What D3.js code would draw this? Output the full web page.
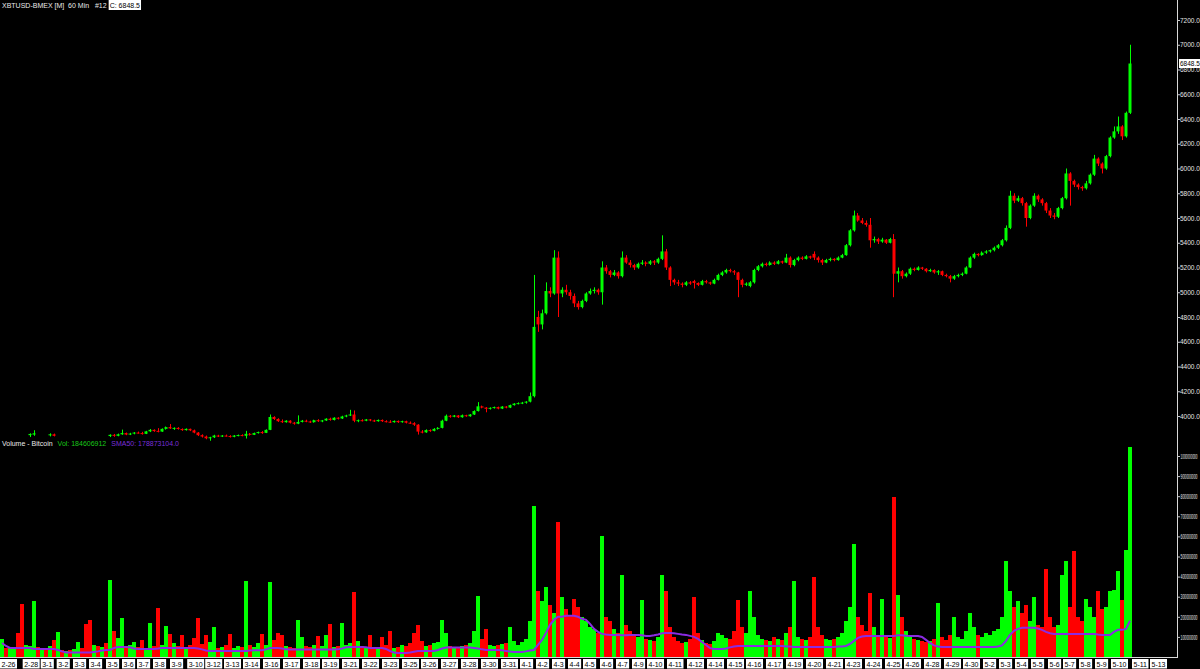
<!DOCTYPE html>
<html><head><meta charset="utf-8">
<script src="https://cdn.jsdelivr.net/npm/d3@7"></script>
<style>
html,body{margin:0;padding:0;background:#000;overflow:hidden;}
svg{display:block;}
text{font-family:"Liberation Sans",Arial,sans-serif;font-size:7px;white-space:pre;}
</style></head><body>
<svg id="chart" width="1200" height="669"></svg>
<script>
// ---------------- DATA ----------------
const titleText = "XBTUSD-BMEX [M]  60 Min   #12";
const lastCloseText = "C: 6848.5";
const lastClose = 6848.5;
const volTitle = "Volume - Bitcoin";
const volText = "Vol: 184606912";
const smaText = "SMA50: 178873104.0";

const opens = [
null,null,null,null,null,null,null,3845,3850,null,
null,null,3845,3852,null,null,null,null,null,null,
null,null,null,null,null,null,null,3838,3848,3840,
3852,3862,3850,3858,3866,3862,3856,3876,3888,3880,
3874,3896,3910,3900,3904,3895,3886,3896,3884,3866,
3845,3834,3820,3828,3842,3836,3842,3838,3832,3842,
3846,3840,3856,3848,3862,3870,3864,3888,3992,3976,
3958,3950,3962,3946,3938,3952,3962,3956,3950,3966,
3958,3964,3978,3968,3986,3980,3996,4004,4012,3962,
3966,3962,3972,3964,3958,3968,3958,3954,3950,3960,
3950,3958,3946,3942,3930,3874,3868,3886,3880,3896,
3904,3962,4002,3994,4004,3990,4006,3998,4012,4040,
4078,4068,4058,4066,4072,4060,4076,4068,4088,4100,
4104,4108,4116,4160,4800,4740,4830,5010,4990,5280,
4990,5020,5000,4970,4910,4880,4930,4990,5010,5020,
5000,5200,5170,5140,5160,5130,5280,5240,5220,5200,
5230,5240,5230,5250,5240,5270,5330,5200,5100,5080,
5070,5060,5080,5090,5075,5060,5090,5080,5070,5100,
5140,5160,5180,5170,5160,5100,5060,5050,5080,5180,
5210,5230,5220,5240,5230,5250,5240,5280,5220,5260,
5280,5270,5290,5310,5280,5260,5240,5260,5270,5260,
5280,5300,5380,5500,5620,5580,5560,5545,5420,5430,
5410,5425,5400,5430,5150,5170,5130,5150,5190,5180,
5200,5190,5170,5180,5160,5170,5140,5130,5110,5130,
5140,5150,5200,5280,5310,5300,5320,5330,5340,5360,
5380,5420,5520,5780,5740,5760,5720,5600,5700,5780,
5750,5720,5660,5620,5610,5680,5760,5960,5900,5870,
5850,5840,5880,5950,6080,6040,6000,6100,6250,6300,
6340,6260,6450];

const highs = [
null,null,null,null,null,null,null,3860,3885,null,
null,null,3860,3858,null,null,null,null,null,null,
null,null,null,null,null,null,null,3852,3855,3858,
3890,3866,3864,3870,3874,3872,3880,3895,3892,3902,
3900,3915,3935,3908,3910,3900,3900,3898,3890,3870,
3852,3842,3832,3848,3848,3846,3850,3845,3846,3850,
3852,3880,3862,3866,3874,3878,3892,4012,3998,3982,
3972,3966,3966,3952,4005,3968,3970,3962,3970,3974,
3968,3982,3986,3990,3990,4002,4010,4050,4045,3972,
3974,3976,3976,3970,3972,3972,3966,3966,3964,3964,
3962,3962,3956,3950,3934,3886,3892,3892,3902,3910,
3970,4012,4008,4008,4008,4012,4010,4016,4046,4112,
4084,4072,4070,4076,4076,4080,4080,4092,4104,4110,
4114,4120,4190,5140,4850,4860,5080,5040,5340,5330,
5040,5060,5020,4990,4930,4940,5000,5030,5040,5030,
5250,5220,5180,5180,5170,5330,5300,5260,5230,5240,
5260,5250,5260,5260,5280,5460,5350,5210,5110,5100,
5080,5090,5090,5100,5080,5100,5100,5085,5110,5150,
5170,5190,5190,5180,5165,5110,5080,5090,5190,5220,
5240,5240,5250,5250,5260,5255,5310,5290,5270,5290,
5290,5300,5295,5330,5290,5270,5270,5280,5275,5290,
5310,5390,5510,5660,5640,5600,5580,5600,5450,5440,
5440,5430,5440,5470,5200,5180,5160,5200,5200,5210,
5205,5195,5190,5185,5180,5175,5150,5140,5140,5150,
5160,5210,5290,5320,5315,5330,5340,5345,5370,5390,
5430,5540,5820,5800,5780,5770,5730,5710,5800,5790,
5760,5730,5680,5640,5690,5770,6000,5970,5910,5880,
5860,5900,5960,6110,6090,6050,6110,6260,6340,6420,
6350,6460,7000];

const lows = [
null,null,null,null,null,null,null,3830,3840,null,
null,null,3835,3835,null,null,null,null,null,null,
null,null,null,null,null,null,null,3830,3832,3836,
3848,3845,3846,3852,3858,3850,3854,3870,3872,3868,
3872,3890,3895,3888,3890,3880,3882,3878,3860,3838,
3826,3812,3800,3822,3830,3830,3834,3826,3828,3836,
3836,3818,3842,3846,3858,3856,3862,3886,3968,3952,
3944,3946,3940,3930,3934,3948,3950,3944,3946,3952,
3950,3960,3962,3964,3972,3976,3990,4000,3950,3950,
3956,3958,3958,3952,3954,3952,3948,3944,3946,3944,
3946,3940,3936,3920,3850,3860,3864,3872,3876,3890,
3900,3958,3986,3990,3984,3986,3994,3994,4008,4036,
4062,4030,4052,4060,4054,4056,4062,4064,4084,4094,
4096,4100,4110,4150,4680,4700,4820,4960,4980,4800,
4960,4980,4940,4880,4860,4870,4920,4980,4990,4980,
4900,5150,5120,5130,5110,5120,5230,5200,5180,5190,
5220,5210,5220,5220,5230,5260,5180,5050,5060,5050,
5040,5050,5060,5030,5050,5055,5070,5060,5065,5095,
5130,5150,5160,5140,4960,5040,5050,5040,5070,5170,
5200,5210,5215,5220,5225,5230,5235,5200,5210,5250,
5260,5265,5270,5260,5240,5220,5235,5250,5250,5255,
5275,5295,5370,5490,5570,5550,5530,5360,5400,5390,
5400,5390,5395,4960,5080,5110,5120,5140,5170,5175,
5180,5160,5165,5150,5140,5130,5120,5080,5100,5120,
5130,5145,5195,5270,5290,5295,5310,5320,5330,5350,
5370,5410,5510,5720,5730,5700,5530,5590,5690,5730,
5700,5640,5600,5590,5600,5670,5750,5700,5850,5830,
5820,5830,5870,5940,6020,5960,5990,6090,6240,6280,
6230,6250,6440];

const closes = [
null,null,null,null,null,null,null,3855,3860,null,
null,null,3852,3840,null,null,null,null,null,null,
null,null,null,null,null,null,null,3848,3840,3852,
3862,3850,3858,3866,3862,3856,3876,3888,3878,3874,
3896,3910,3900,3904,3895,3886,3896,3884,3866,3845,
3834,3820,3828,3842,3836,3842,3838,3832,3842,3846,
3840,3856,3848,3862,3870,3864,3888,3992,3976,3958,
3950,3962,3946,3938,3952,3962,3956,3950,3966,3958,
3964,3978,3968,3986,3980,3996,4004,4012,3962,3966,
3962,3972,3964,3958,3968,3958,3954,3950,3960,3950,
3958,3946,3942,3930,3874,3868,3886,3880,3896,3904,
3962,4002,3994,4004,3990,4006,3998,4012,4040,4078,
4068,4058,4066,4072,4060,4076,4068,4088,4100,4104,
4108,4116,4160,4720,4740,4830,5010,4990,5280,4990,
5020,5000,4970,4910,4880,4930,4990,5010,5020,5000,
5200,5170,5140,5160,5130,5280,5240,5220,5200,5230,
5240,5230,5250,5240,5270,5330,5200,5100,5080,5070,
5060,5080,5070,5075,5060,5090,5080,5070,5100,5140,
5160,5180,5170,5160,5100,5060,5070,5080,5180,5210,
5230,5220,5240,5230,5250,5240,5280,5220,5260,5280,
5270,5290,5280,5280,5260,5240,5260,5270,5260,5280,
5300,5380,5500,5620,5580,5560,5545,5420,5430,5410,
5425,5400,5430,5150,5170,5130,5150,5190,5180,5200,
5190,5170,5180,5160,5170,5140,5130,5110,5130,5140,
5150,5200,5280,5310,5300,5320,5330,5340,5360,5380,
5420,5520,5780,5740,5760,5720,5600,5700,5780,5750,
5720,5660,5620,5610,5680,5760,5960,5900,5870,5850,
5840,5880,5950,6080,6040,6000,6100,6250,6300,6340,
6260,6450,6848.5];

// direction of the volume bars where no price bar is drawn (1 = up, 0 = down)
const earlyUp = [1,0,1,1,0,0,1,1,1,0, 1,0,1,0,1,0,1,0,1,1, 0,0,0,1,0,1,0];

// volume, millions
const volumes = [
90,45,50,40,120,265,60,55,280,50,
45,40,55,85,125,35,30,35,40,75,
45,165,185,60,55,50,70,385,130,95,
195,55,60,75,50,85,45,170,55,245,
60,155,115,70,55,110,50,60,95,195,
65,110,75,150,45,50,60,115,45,55,
50,378,60,50,70,115,60,375,85,120,
110,55,50,45,185,100,55,50,60,105,
55,110,165,50,55,170,60,70,325,80,
55,50,110,50,45,100,60,130,45,50,
60,55,70,120,160,80,55,60,70,75,
185,120,55,50,45,55,60,70,130,305,
90,140,60,55,60,65,70,150,80,60,
75,90,180,750,330,280,350,260,220,670,
300,240,210,290,250,200,180,150,140,120,
600,200,180,140,120,410,160,130,110,100,
285,90,85,80,100,410,330,150,100,80,
70,75,90,300,120,85,70,65,80,120,
110,95,90,130,285,150,120,330,200,110,
90,85,80,100,90,85,120,150,380,100,
90,85,100,400,150,110,90,85,90,100,
120,180,250,560,200,160,130,320,150,110,
290,100,95,795,310,200,130,100,90,85,
80,75,80,90,270,100,85,110,200,100,
90,130,220,150,110,100,120,110,130,140,
200,480,330,250,280,220,260,180,300,160,
150,440,200,150,160,410,480,250,525,200,
180,290,250,200,330,240,250,330,335,430,
285,530,1045];

// SMA50 of volume, millions
const sma50 = [
70,55,45,45,45,45,45,45,40,40,
40,40,40,40,35,28,22,22,22,22,
22,22,22,25,28,32,35,35,45,50,
50,50,48,42,40,40,40,40,40,42,
45,45,45,45,45,45,45,45,45,42,
38,32,30,30,30,30,30,30,30,30,
30,30,32,34,34,34,38,45,45,45,
42,38,37,37,37,37,37,37,37,37,
37,37,37,37,38,42,48,50,50,50,
50,48,45,45,45,45,40,30,22,20,
20,20,22,26,30,30,30,30,30,35,
42,47,47,47,47,47,47,47,45,42,
38,35,35,35,35,33,30,27,25,25,
25,28,32,35,60,85,120,160,185,200,
200,205,205,205,200,190,185,165,140,125,
115,112,110,110,110,108,108,110,110,110,
108,105,105,108,112,118,120,120,118,115,
112,110,105,100,90,75,60,45,40,40,
40,42,48,52,55,55,55,55,55,55,
55,55,55,55,55,55,52,52,50,50,
50,50,50,50,50,50,50,50,50,52,
52,55,65,80,95,102,105,105,105,105,
105,105,105,105,108,108,106,105,105,104,
100,85,70,58,52,50,50,50,50,50,
50,50,50,50,50,50,50,50,50,52,
58,80,110,130,140,145,145,145,145,142,
135,125,118,115,115,115,115,115,115,115,
115,115,115,115,112,110,110,110,125,135,
135,140,180];

const priceTicks = [4000,4200,4400,4600,4800,5000,5200,5400,5600,5800,6000,6200,6400,6600,6800,7000,7200];
const volumeTicks = [100000000,200000000,300000000,400000000,500000000,600000000,700000000,800000000,900000000,1000000000];

const dateLabels = ["2-26","2-28","3-1","3-2","3-3","3-4","3-5","3-6","3-7","3-8","3-9","3-10","3-12","3-13","3-14","3-16","3-17","3-18","3-19","3-21","3-22","3-23","3-25","3-26","3-27","3-28","3-30","3-31","4-1","4-2","4-3","4-4","4-5","4-6","4-7","4-9","4-10","4-11","4-12","4-14","4-15","4-16","4-17","4-19","4-20","4-21","4-23","4-24","4-25","4-26","4-28","4-29","4-30","5-2","5-3","5-4","5-5","5-6","5-7","5-8","5-9","5-10","5-11","5-13"];
// bar position (in bar units) where each date label sits
const dateLabelBar = [0,5.67,10.17,14.17,18.25,22.25,26.5,30.5,34.25,38.25,42.5,46.8,51.3,56,60.75,65.75,70.75,75.75,80.5,85.5,90.5,95.5,100.5,105.25,110.25,115.25,120.25,125.25,130,134,138,142,145.75,150,154,158,161.75,166.75,171.75,176.75,181.75,186.5,191.5,196.5,201.5,206.5,211.25,216.25,221.25,226,231,236,240.75,245.75,249.75,253.75,257.75,262,265.75,269.75,273.75,277.75,283,287.5];

// ---------------- DRAWING ----------------
const GREEN = "#00ff00", RED = "#ff0000", PURPLE = "#8a2be2";
const FONT = "'Liberation Sans', Arial, sans-serif";
const svg = d3.select("#chart");
svg.append("rect").attr("width",1200).attr("height",669).attr("fill","#000");

const nBars = closes.length;
const x = d3.scaleLinear().domain([0, nBars]).range([0, 1132]);
const yP = d3.scaleLinear().domain([4000, 7200]).range([416, 20]);
const yV = d3.scaleLinear().domain([0, 1e9]).range([657, 456]);
const step = x(1) - x(0);

const bars = d3.range(nBars).map(i => ({
  i, o: opens[i], h: highs[i], l: lows[i], c: closes[i],
  v: volumes[i] * 1e6, sma: sma50[i] * 1e6
}));
const isUp = d => d.c != null ? d.c >= d.o : earlyUp[d.i] === 1;

// volume bars
svg.append("g").selectAll("rect").data(bars).join("rect")
  .attr("x", d => x(d.i)).attr("width", step)
  .attr("y", d => yV(d.v)).attr("height", d => yV(0) - yV(d.v))
  .attr("fill", d => isUp(d) ? GREEN : RED)
  .attr("shape-rendering", "crispEdges");

// SMA50 line
svg.append("path").datum(bars)
  .attr("d", d3.line().x(d => x(d.i + 0.5)).y(d => yV(d.sma)))
  .attr("fill", "none").attr("stroke", PURPLE).attr("stroke-width", 2);

// candles
const priced = bars.filter(d => d.c != null);
const cg = svg.append("g");
cg.selectAll("line").data(priced).join("line")
  .attr("x1", d => Math.floor(x(d.i + 0.5)) + 0.5)
  .attr("x2", d => Math.floor(x(d.i + 0.5)) + 0.5)
  .attr("y1", d => yP(d.h)).attr("y2", d => yP(d.l))
  .attr("stroke", d => isUp(d) ? GREEN : RED).attr("stroke-width", 1);
cg.selectAll("rect").data(priced).join("rect")
  .attr("x", d => x(d.i) + 0.5).attr("width", step - 1)
  .attr("y", d => yP(Math.max(d.o, d.c)))
  .attr("height", d => Math.max(1, Math.abs(yP(d.o) - yP(d.c))))
  .attr("fill", d => isUp(d) ? GREEN : RED);

// frame
svg.append("line").attr("x1",1177.5).attr("x2",1177.5).attr("y1",0).attr("y2",658)
  .attr("stroke","#d8d8d8").attr("stroke-width",1);
svg.append("line").attr("x1",0).attr("x2",1178).attr("y1",657.5).attr("y2",657.5)
  .attr("stroke","#d8d8d8").attr("stroke-width",1);

// price axis
const pg = svg.append("g").attr("transform","translate(1177,0)")
  .call(d3.axisRight(yP).tickValues(priceTicks).tickSize(3).tickPadding(0)
    .tickFormat(d => d.toFixed(1)));
pg.select(".domain").remove();
pg.attr("font-size",6.5).attr("font-family",FONT);
pg.selectAll("line").attr("stroke","#c8c8c8");
pg.selectAll("text").attr("fill","#e4e4e4").style("font-size","6.5px");

// volume axis (labels compressed horizontally into the narrow margin)
const vg = svg.append("g").attr("transform","translate(1177,0)")
  .call(d3.axisRight(yV).tickValues(volumeTicks).tickSize(3).tickPadding(0)
    .tickFormat(d3.format("d")));
vg.select(".domain").remove();
vg.attr("font-size",7).attr("font-family",FONT);
vg.selectAll("line").attr("stroke","#c8c8c8");
vg.selectAll("text").attr("fill","#ececec").each(function() {
  const w = this.getComputedTextLength();
  const sx = Math.min(1, 17 / w);
  d3.select(this).attr("x", 0).attr("transform", `translate(3.5,0) scale(${sx},1)`);
});

// last price marker
const ly = yP(lastClose);
svg.append("rect").attr("x",1179).attr("y",ly-4.5).attr("width",21).attr("height",9).attr("fill","#fff");
svg.append("text").attr("x",1180).attr("y",ly+2.3).attr("fill","#000").style("font-size","6.5px")
  .text(d3.format(".1f")(lastClose));

// header
const hg = svg.append("g");
const t1 = hg.append("text").attr("x",2).attr("y",8).attr("fill","#e8e8e8").text(titleText);
const t1End = 2 + t1.node().getComputedTextLength();
const hBox = hg.append("rect").attr("y",0).attr("height",10).attr("fill","#fff");
const t2 = hg.append("text").attr("x",t1End+3).attr("y",8).attr("fill","#000").text(lastCloseText);
hBox.attr("x",t1End+2).attr("width",t2.node().getComputedTextLength()+2);

// volume legend
let lx = 2;
[[volTitle,"#e8e8e8"],[volText,"#19c819"],[smaText,"#7a2fd8"]].forEach(([s,col]) => {
  const t = svg.append("text").attr("x",lx).attr("y",446).attr("fill",col).text(s);
  lx += t.node().getComputedTextLength() + 5;
});

// date labels
const dg = svg.append("g");
dateLabels.forEach((s, k) => {
  const bx = x(dateLabelBar[k]);
  const r = dg.append("rect").attr("y",659).attr("height",9.5).attr("fill","#fff");
  const t = dg.append("text").attr("x",bx+1.5).attr("y",666.5).attr("fill","#000").text(s);
  r.attr("x",bx).attr("width",t.node().getComputedTextLength()+3);
});
</script>
</body></html>
